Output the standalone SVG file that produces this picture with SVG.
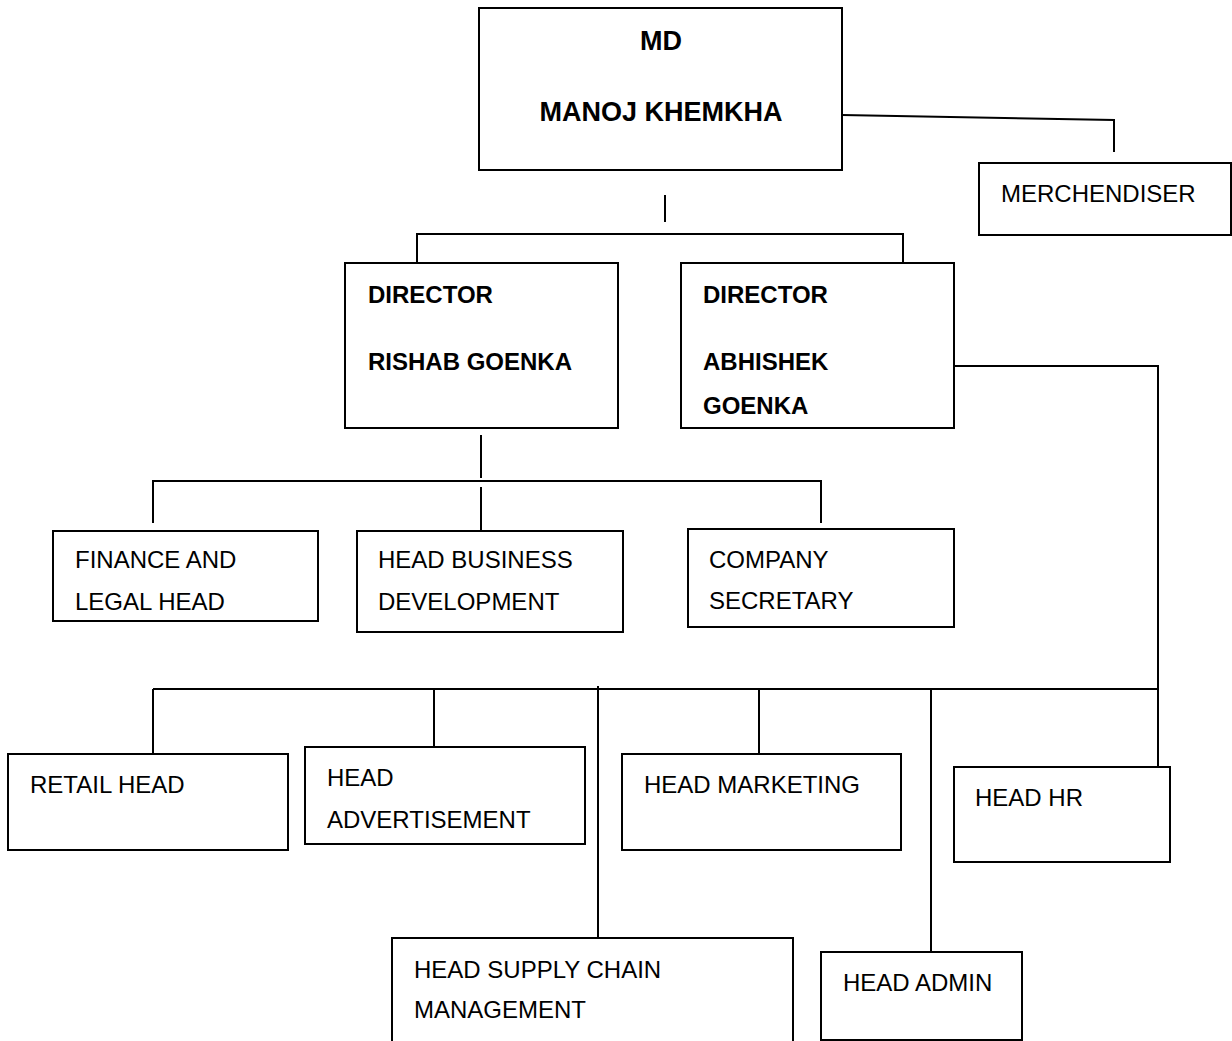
<svg xmlns="http://www.w3.org/2000/svg" width="1232" height="1041" viewBox="0 0 1232 1041">
<style>
  rect{fill:#fff;stroke:#000;stroke-width:2}
  .c line,.c polyline{stroke:#000;stroke-width:2;fill:none}
  text{font-family:"Liberation Sans",Arial,sans-serif;font-size:24px;fill:#000}
  .b{font-weight:bold}
  .md{font-size:27px;text-anchor:middle}
</style>
<rect x="0" y="0" width="1232" height="1041" style="fill:#fff;stroke:none"/>
<g class="c" id="connectors">
  <polyline points="842,115 1114,120 1114,152"/>
  <line x1="665" y1="195" x2="665" y2="222"/>
  <polyline points="417,263 417,234 903,234 903,263"/>
  <polyline points="954,366 1158,366 1158,767"/>
  <line x1="481" y1="435" x2="481" y2="478"/>
  <polyline points="153,523 153,481 821,481 821,523"/>
  <line x1="481" y1="487" x2="481" y2="531"/>
  <line x1="153" y1="689" x2="1158" y2="689"/>
  <line x1="153" y1="689" x2="153" y2="754"/>
  <line x1="434" y1="689" x2="434" y2="747"/>
  <line x1="598" y1="686" x2="598" y2="938"/>
  <line x1="759" y1="689" x2="759" y2="754"/>
  <line x1="931" y1="689" x2="931" y2="952"/>
</g>
<g id="md">
  <rect x="479" y="8" width="363" height="162"/>
  <text class="b md" x="661" y="50">MD</text>
  <text class="b md" x="661" y="121">MANOJ KHEMKHA</text>
</g>
<g id="merchendiser">
  <rect x="979" y="163" width="252" height="72"/>
  <text x="1001" y="202">MERCHENDISER</text>
</g>
<g id="director1">
  <rect x="345" y="263" width="273" height="165"/>
  <text class="b" x="368" y="303">DIRECTOR</text>
  <text class="b" x="368" y="370">RISHAB GOENKA</text>
</g>
<g id="director2">
  <rect x="681" y="263" width="273" height="165"/>
  <text class="b" x="703" y="303">DIRECTOR</text>
  <text class="b" x="703" y="370">ABHISHEK</text>
  <text class="b" x="703" y="414">GOENKA</text>
</g>
<g id="finance">
  <rect x="53" y="531" width="265" height="90"/>
  <text x="75" y="568">FINANCE AND</text>
  <text x="75" y="610">LEGAL HEAD</text>
</g>
<g id="business">
  <rect x="357" y="531" width="266" height="101"/>
  <text x="378" y="568">HEAD BUSINESS</text>
  <text x="378" y="610">DEVELOPMENT</text>
</g>
<g id="secretary">
  <rect x="688" y="529" width="266" height="98"/>
  <text x="709" y="568">COMPANY</text>
  <text x="709" y="609">SECRETARY</text>
</g>
<g id="retail">
  <rect x="8" y="754" width="280" height="96"/>
  <text x="30" y="793">RETAIL HEAD</text>
</g>
<g id="advertisement">
  <rect x="305" y="747" width="280" height="97"/>
  <text x="327" y="786">HEAD</text>
  <text x="327" y="828">ADVERTISEMENT</text>
</g>
<g id="marketing">
  <rect x="622" y="754" width="279" height="96"/>
  <text x="644" y="793">HEAD MARKETING</text>
</g>
<g id="hr">
  <rect x="954" y="767" width="216" height="95"/>
  <text x="975" y="806">HEAD HR</text>
</g>
<g id="supply">
  <rect x="392" y="938" width="401" height="110"/>
  <text x="414" y="978">HEAD SUPPLY CHAIN</text>
  <text x="414" y="1018">MANAGEMENT</text>
</g>
<g id="admin">
  <rect x="821" y="952" width="201" height="88"/>
  <text x="843" y="991">HEAD ADMIN</text>
</g>
</svg>
